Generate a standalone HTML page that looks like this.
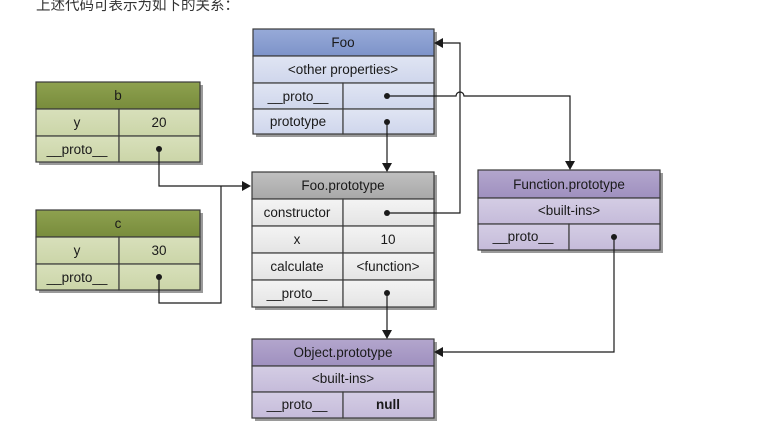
<!DOCTYPE html>
<html><head><meta charset="utf-8"><style>
html,body{margin:0;padding:0;background:#fff;width:767px;height:444px;overflow:hidden}
svg{display:block}
text{font-family:"Liberation Sans","DejaVu Sans",sans-serif;font-size:13.5px;fill:#1a1a1a;text-anchor:middle}
</style></head><body>
<svg width="767" height="444" viewBox="0 0 767 444" xmlns="http://www.w3.org/2000/svg">
<defs>
<linearGradient id="gB" x1="0" y1="0" x2="0" y2="1"><stop offset="0" stop-color="#97aad8"/><stop offset="1" stop-color="#7d93c9"/></linearGradient>
<linearGradient id="gBr" x1="0" y1="0" x2="0" y2="1"><stop offset="0" stop-color="#e0e5f3"/><stop offset="1" stop-color="#cfd6ec"/></linearGradient>
<linearGradient id="gG" x1="0" y1="0" x2="0" y2="1"><stop offset="0" stop-color="#8ea14f"/><stop offset="1" stop-color="#788c3c"/></linearGradient>
<linearGradient id="gGr" x1="0" y1="0" x2="0" y2="1"><stop offset="0" stop-color="#d8e0bb"/><stop offset="1" stop-color="#cbd5a8"/></linearGradient>
<linearGradient id="gS" x1="0" y1="0" x2="0" y2="1"><stop offset="0" stop-color="#c0c0c0"/><stop offset="1" stop-color="#a8a8a8"/></linearGradient>
<linearGradient id="gSr" x1="0" y1="0" x2="0" y2="1"><stop offset="0" stop-color="#f4f4f4"/><stop offset="1" stop-color="#e4e4e4"/></linearGradient>
<linearGradient id="gP" x1="0" y1="0" x2="0" y2="1"><stop offset="0" stop-color="#b3a6cd"/><stop offset="1" stop-color="#9f90bf"/></linearGradient>
<linearGradient id="gPr" x1="0" y1="0" x2="0" y2="1"><stop offset="0" stop-color="#d4cde4"/><stop offset="1" stop-color="#c5bbda"/></linearGradient>
</defs>
<text x="36" y="10" style="font-family:'Liberation Sans','Noto Sans CJK SC',sans-serif;font-size:14.5px;fill:#333;text-anchor:start">上述代码可表示为如下的关系：</text>

<g stroke="#3a3a3a" stroke-width="1.2">
<g stroke="none" fill="#9a9a9a">
<rect x="256" y="32" width="181" height="105"/>
<rect x="39" y="85" width="164" height="80"/>
<rect x="39" y="213" width="164" height="80"/>
<rect x="255" y="175" width="182" height="135"/>
<rect x="481" y="173" width="182" height="80"/>
<rect x="255" y="342" width="182" height="79"/>
</g>
<rect x="253" y="29" width="181" height="27" fill="url(#gB)"/>
<rect x="253" y="56" width="181" height="27" fill="url(#gBr)"/>
<rect x="253" y="83" width="90" height="26" fill="url(#gBr)"/><rect x="343" y="83" width="91" height="26" fill="url(#gBr)"/>
<rect x="253" y="109" width="90" height="25" fill="url(#gBr)"/><rect x="343" y="109" width="91" height="25" fill="url(#gBr)"/>
<rect x="36" y="82" width="164" height="27" fill="url(#gG)"/>
<rect x="36" y="109" width="83" height="27" fill="url(#gGr)"/><rect x="119" y="109" width="81" height="27" fill="url(#gGr)"/>
<rect x="36" y="136" width="83" height="26" fill="url(#gGr)"/><rect x="119" y="136" width="81" height="26" fill="url(#gGr)"/>
<rect x="36" y="210" width="164" height="27" fill="url(#gG)"/>
<rect x="36" y="237" width="83" height="27" fill="url(#gGr)"/><rect x="119" y="237" width="81" height="27" fill="url(#gGr)"/>
<rect x="36" y="264" width="83" height="26" fill="url(#gGr)"/><rect x="119" y="264" width="81" height="26" fill="url(#gGr)"/>
<rect x="252" y="172" width="182" height="27" fill="url(#gS)"/>
<rect x="252" y="199" width="91" height="27" fill="url(#gSr)"/><rect x="343" y="199" width="91" height="27" fill="url(#gSr)"/>
<rect x="252" y="226" width="91" height="27" fill="url(#gSr)"/><rect x="343" y="226" width="91" height="27" fill="url(#gSr)"/>
<rect x="252" y="253" width="91" height="27" fill="url(#gSr)"/><rect x="343" y="253" width="91" height="27" fill="url(#gSr)"/>
<rect x="252" y="280" width="91" height="27" fill="url(#gSr)"/><rect x="343" y="280" width="91" height="27" fill="url(#gSr)"/>
<rect x="478" y="170" width="182" height="28" fill="url(#gP)"/>
<rect x="478" y="198" width="182" height="26" fill="url(#gPr)"/>
<rect x="478" y="224" width="91" height="26" fill="url(#gPr)"/><rect x="569" y="224" width="91" height="26" fill="url(#gPr)"/>
<rect x="252" y="339" width="182" height="27" fill="url(#gP)"/>
<rect x="252" y="366" width="182" height="26" fill="url(#gPr)"/>
<rect x="252" y="392" width="91" height="26" fill="url(#gPr)"/><rect x="343" y="392" width="91" height="26" fill="url(#gPr)"/>
</g>

<g stroke="#1a1a1a" stroke-width="1.2" fill="none">
<path d="M159 149 V186 H245"/>
<path d="M159 277 V303 H221 V186"/>
<path d="M387 122 V165"/>
<path d="M387 96 H456 A4 4 0 0 1 464 96 H570 V163"/>
<path d="M387 213 H460 V43 H441"/>
<path d="M387 293 V331"/>
<path d="M614 237 V352 H441"/>
</g>
<g fill="#1a1a1a">
<circle cx="159" cy="149" r="3"/><circle cx="159" cy="277" r="3"/>
<circle cx="387" cy="122" r="3"/><circle cx="387" cy="96" r="3"/>
<circle cx="387" cy="213" r="3"/><circle cx="387" cy="293" r="3"/>
<circle cx="614" cy="237" r="3"/>
<polygon points="251,186 242,181 242,191"/>
<polygon points="387,172 382,163 392,163"/>
<polygon points="570,170 565,161 575,161"/>
<polygon points="434,43 443,38 443,48"/>
<polygon points="387,339 382,330 392,330"/>
<polygon points="434,352 443,347 443,357"/>
</g>

<text x="343" y="47">Foo</text>
<text x="343" y="74">&lt;other properties&gt;</text>
<text x="298" y="101">__proto__</text>
<text x="298" y="126">prototype</text>
<text x="118" y="100">b</text>
<text x="77" y="127">y</text><text x="159" y="127">20</text>
<text x="77" y="154">__proto__</text>
<text x="118" y="228">c</text>
<text x="77" y="255">y</text><text x="159" y="255">30</text>
<text x="77" y="282">__proto__</text>
<text x="343" y="190">Foo.prototype</text>
<text x="297" y="217">constructor</text>
<text x="297" y="244">x</text><text x="388" y="244">10</text>
<text x="297" y="271">calculate</text><text x="388" y="271">&lt;function&gt;</text>
<text x="297" y="298">__proto__</text>
<text x="569" y="189">Function.prototype</text>
<text x="569" y="215">&lt;built-ins&gt;</text>
<text x="523" y="241">__proto__</text>
<text x="343" y="357">Object.prototype</text>
<text x="343" y="383">&lt;built-ins&gt;</text>
<text x="297" y="409">__proto__</text>
<text x="388" y="409" style="font-weight:bold">null</text>
</svg>
</body></html>
